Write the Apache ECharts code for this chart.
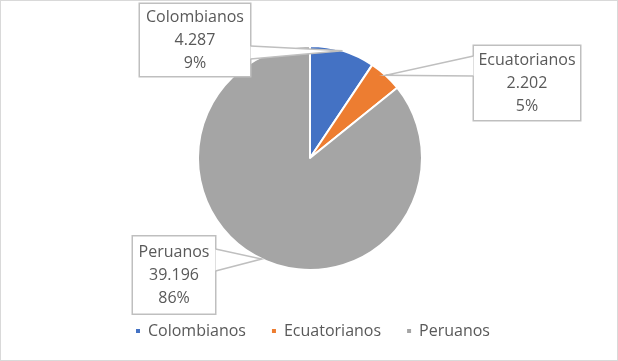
<!DOCTYPE html>
<html><head><meta charset="utf-8">
<script src="https://cdn.jsdelivr.net/npm/echarts@6/dist/echarts.min.js"></script>
<style>html,body{margin:0;padding:0;background:#fff}#c{width:618px;height:361px;box-sizing:border-box;border:1px solid #D9D9D9}</style>
</head><body><div id="c"></div>
<script>
const categories = ['Colombianos', 'Ecuatorianos', 'Peruanos'];
const values = [4287, 2202, 39196];
const colors = ['#4472C4', '#ED7D31', '#A5A5A5'];
// label box layout: centre x, centre y, width, height, callout side (+1 right edge, -1 left edge), callout base offsets
const labelPos = [[194, 39, 112, 74, 1, 6, 19], [526, 82, 108, 76, -1, -27, -7], [173, 274, 84, 79, 1, -26, -4]];

const total = values.reduce((a, b) => a + b, 0);
function fmt(n) { return String(n).replace(/\B(?=(\d{3})+(?!\d))/g, '.'); }

const CX = 309, CY = 157, R = 112;
function anchorOf(i) {
  let before = 0;
  for (let k = 0; k < i; k++) before += values[k];
  const frac = (before + values[i] / 2) / total;
  const a = frac * 2 * Math.PI;
  return [CX + R * Math.sin(a), CY - R * Math.cos(a)];
}
function calloutPoints(i) {
  const L = labelPos[i];
  const ex = L[0] + L[4] * (L[2] / 2 - 0.5);
  return [[ex, L[1] + L[5]], anchorOf(i), [ex, L[1] + L[6]]];
}
const chart = echarts.init(document.getElementById('c'));
chart.setOption({
  animation: false,
  color: colors,
  legend: {
    bottom: 16, left: 128, itemWidth: 6, itemHeight: 6, itemGap: 24,
    icon: 'rect',
    textStyle: { color: '#595959', fontSize: 16, fontFamily: 'Open Sans', padding: [0, 0, 0, 2] },
    data: categories
  },
  graphic: categories.map((c, i) => ({
    type: 'polyline', z: 100, silent: true,
    shape: { points: calloutPoints(i) },
    style: { fill: '#fff', stroke: '#BFBFBF', lineWidth: 1.5 }
  })),
  series: [{
    type: 'pie',
    center: [CX, CY],
    radius: R,
    startAngle: 90,
    clockwise: true,
    itemStyle: { borderColor: '#fff', borderWidth: 2 },
    data: categories.map((c, i) => ({
      name: c, value: values[i],
      label: { width: labelPos[i][2] - 2, height: labelPos[i][3] - 2 }
    })),
    label: {
      show: true,
      formatter: p => p.name + '\n' + fmt(p.value) + '\n' + Math.round(p.value / total * 100) + '%',
      color: '#595959', fontSize: 16, fontFamily: 'Open Sans', lineHeight: 23,
      align: 'center', verticalAlign: 'middle',
      backgroundColor: '#fff', borderColor: '#BFBFBF', borderWidth: 1.5,
      padding: 0
    },
    labelLine: { show: false },
    labelLayout: p => {
      const L = labelPos[p.dataIndex];
      return { x: L[0], y: L[1], align: 'center', verticalAlign: 'middle' };
    }
  }]
});
</script></body></html>
